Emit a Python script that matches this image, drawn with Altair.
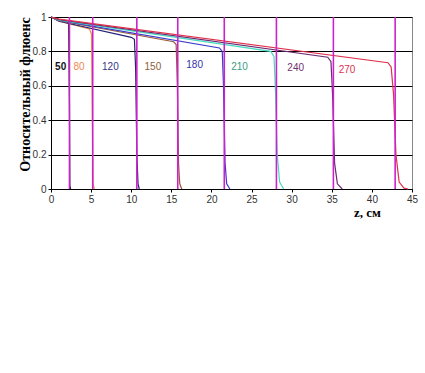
import altair as alt
import pandas as pd

# Curve data (energy label -> z points and relative fluence values)
curve_names = ["50", "80", "120", "150", "180", "210", "240", "270"]
curve_colors = ["#202020", "#f0904a", "#23237a", "#9a5a3a", "#3a3acc", "#45dcc0", "#6a2a72", "#e0304a"]

z50 = [0, 1.0, 2.0, 2.2, 2.3, 2.35, 2.45]
f50 = [1, 0.985, 0.972, 0.96, 0.5, 0.02, 0]
z80 = [0, 1.0, 4.8, 5.05, 5.15, 5.25, 5.4]
f80 = [1, 0.975, 0.93, 0.9, 0.4, 0.03, 0]
z120 = [0, 1.0, 10.0, 10.4, 10.55, 10.7, 10.85, 11.0]
f120 = [1, 0.975, 0.882, 0.87, 0.7, 0.2, 0.03, 0]
z150 = [0, 1.0, 15.3, 15.6, 15.75, 15.9, 16.05, 16.3]
f150 = [1, 0.978, 0.856, 0.84, 0.6, 0.15, 0.03, 0]
z180 = [0, 1.0, 21.0, 21.35, 21.5, 21.7, 21.9, 22.3]
f180 = [1, 0.98, 0.82, 0.8, 0.6, 0.15, 0.03, 0]
z210 = [0, 1.0, 27.4, 27.8, 28.0, 28.2, 28.5, 29.0]
f210 = [1, 0.982, 0.8, 0.77, 0.55, 0.2, 0.04, 0]
z240 = [0, 1.0, 34.5, 34.9, 35.1, 35.35, 35.7, 36.3]
f240 = [1, 0.985, 0.766, 0.74, 0.55, 0.15, 0.03, 0]
z270 = [0, 1.0, 42.0, 42.4, 42.7, 43.0, 43.4, 44.0, 44.5]
f270 = [1, 0.988, 0.734, 0.71, 0.55, 0.2, 0.04, 0.005, 0]

curve_z = [z50, z80, z120, z150, z180, z210, z240, z270]
curve_f = [f50, f80, f120, f150, f180, f210, f240, f270]

# Vertical marker lines (range positions, cm)
marker_z = [2.3, 5.2, 10.7, 15.8, 21.6, 28.1, 35.2, 42.9]

# Curve labels positions
label_x = [1.2, 3.5, 7.4, 12.7, 17.9, 23.5, 30.5, 36.9]
label_y = [0.71, 0.71, 0.71, 0.71, 0.72, 0.71, 0.705, 0.69]
label_colors = ["#111111", "#f08a50", "#333388", "#8b5e3c", "#3333aa", "#3c9c80", "#703070", "#e03050"]

# Axis ticks
x_ticks = [0, 5, 10, 15, 20, 25, 30, 35, 40, 45]
y_ticks = [0, 0.2, 0.4, 0.6, 0.8, 1.0]

rows = []
for name, zs, fs in zip(curve_names, curve_z, curve_f):
    for i, (z, f) in enumerate(zip(zs, fs)):
        rows.append({"curve": name, "z": z, "f": f, "order": i})
df = pd.DataFrame(rows)

df_markers = pd.DataFrame({"z": marker_z})
df_labels = pd.DataFrame({"name": curve_names, "x": label_x, "y": label_y, "color": label_colors})

xscale = alt.Scale(domain=[0, 45], nice=False)
yscale = alt.Scale(domain=[0, 1], nice=False)

x_axis = alt.Axis(values=x_ticks, title="z, см", grid=False,
                  labelOverlap=False, labelFlush=False,
                  titleX=316, titleY=23, titleAlign="center", titleBaseline="middle",
                  titleFont="Liberation Serif", titleFontSize=13, titleFontWeight="bold",
                  titleColor="#000")
y_axis = alt.Axis(values=y_ticks, format="~g", labelOverlap=False, labelFlush=False,
                  title="Относительный флюенс", grid=True, gridColor="#000", gridWidth=1,
                  gridOpacity=1, titleX=-26, titleY=77, titleAngle=270,
                  titleAlign="center", titleBaseline="middle",
                  titleFont="Liberation Serif", titleFontSize=14, titleFontWeight="bold",
                  titleColor="#000")

lines = alt.Chart(df).mark_line(strokeWidth=1.2).encode(
    x=alt.X("z:Q", scale=xscale, axis=x_axis),
    y=alt.Y("f:Q", scale=yscale, axis=y_axis),
    color=alt.Color("curve:N", scale=alt.Scale(domain=curve_names, range=curve_colors), legend=None),
    order="order:Q",
)

rules = alt.Chart(df_markers).mark_rule(color="#cc22cc", strokeWidth=1.6).encode(
    x=alt.X("z:Q", scale=xscale, axis=x_axis),
    y=alt.value(0),
    y2=alt.value(172),
)

labels_first = alt.Chart(df_labels.iloc[:1]).mark_text(
    fontSize=10, font="Liberation Sans", fontWeight="bold").encode(
    x=alt.X("x:Q", scale=xscale, axis=x_axis),
    y=alt.Y("y:Q", scale=yscale, axis=y_axis),
    text="name:N",
    color=alt.Color("color:N", scale=None),
)
labels_rest = alt.Chart(df_labels.iloc[1:]).mark_text(
    fontSize=10, font="Liberation Sans").encode(
    x=alt.X("x:Q", scale=xscale, axis=x_axis),
    y=alt.Y("y:Q", scale=yscale, axis=y_axis),
    text="name:N",
    color=alt.Color("color:N", scale=None),
)

chart = alt.layer(lines, rules, labels_first, labels_rest).properties(
    width=361, height=172,
    background="white",
    autosize=alt.AutoSizeParams(type="none"),
    padding={"left": 51, "top": 17, "right": 13, "bottom": 184},
).configure_view(stroke="#888888", strokeWidth=1).configure_axis(
    domainColor="#000", tickColor="#000", tickSize=3,
    labelFont="Liberation Sans", labelFontSize=10, labelColor="#333333",
)

chart.save("out.html", embed_options={"renderer": "svg", "actions": False})
